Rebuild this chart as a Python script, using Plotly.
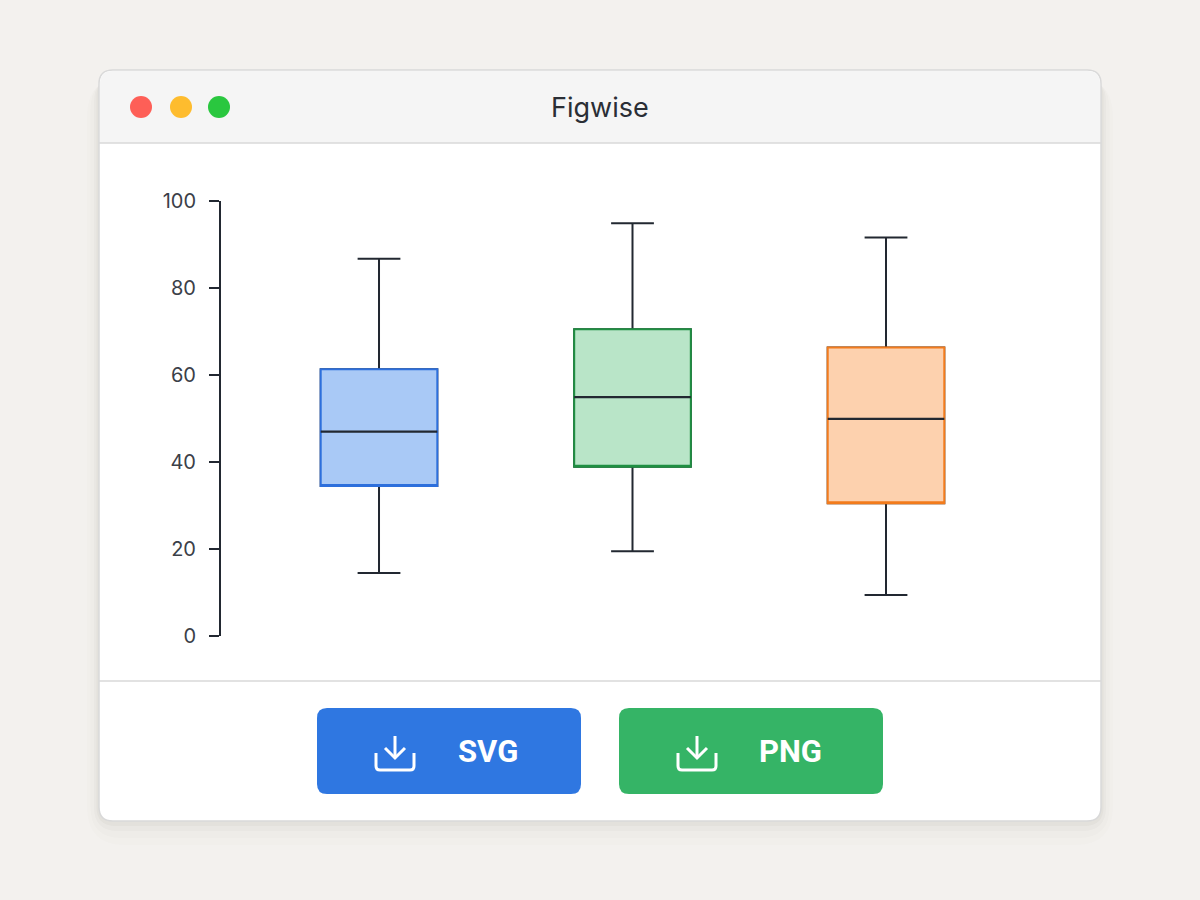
import plotly.graph_objects as go

# box statistics (three groups)
groups = ["A", "B", "C"]
positions = [0, 1, 2]
lower_whisker = [14.5, 19.5, 9.4]
q1 = [34.5, 38.9, 30.5]
median = [47.0, 54.9, 49.9]
q3 = [61.3, 70.5, 66.3]
upper_whisker = [86.7, 94.9, 91.6]

fill_colors = ["#a9c9f6", "#b9e5c8", "#fdd1ae"]
edge_colors = ["#2d6fdc", "#1f8f42", "#f27b1c"]
dark = "#222831"

y_ticks = [0, 20, 40, 60, 80, 100]

W, H = 1200, 900


def px(x):
    return x / W


def py(y):
    return 1 - y / H


def rrect(x0, y0, x1, y1, r, top=True, bottom=True):
    # rounded rectangle path in paper coords, built from pixel values
    rt = r if top else 0
    rb = r if bottom else 0
    p = f"M {px(x0 + rt)},{py(y0)} L {px(x1 - rt)},{py(y0)} "
    p += f"Q {px(x1)},{py(y0)} {px(x1)},{py(y0 + rt)} "
    p += f"L {px(x1)},{py(y1 - rb)} Q {px(x1)},{py(y1)} {px(x1 - rb)},{py(y1)} "
    p += f"L {px(x0 + rb)},{py(y1)} Q {px(x0)},{py(y1)} {px(x0)},{py(y1 - rb)} "
    p += f"L {px(x0)},{py(y0 + rt)} Q {px(x0)},{py(y0)} {px(x0 + rt)},{py(y0)} Z"
    return p


fig = go.Figure()

for i in range(len(groups)):
    # whiskers + dark outline
    fig.add_trace(go.Box(
        x=[positions[i]], q1=[q1[i]], median=[median[i]], q3=[q3[i]],
        lowerfence=[lower_whisker[i]], upperfence=[upper_whisker[i]],
        width=0.46, whiskerwidth=0.367, boxpoints=False,
        line=dict(color=dark, width=2), fillcolor="rgba(0,0,0,0)",
        name=groups[i], showlegend=False, hoverinfo="skip"))
    # coloured box on top
    fig.add_trace(go.Box(
        x=[positions[i]], q1=[q1[i]], median=[q1[i]], q3=[q3[i]],
        lowerfence=[q1[i]], upperfence=[q3[i]],
        width=0.46, whiskerwidth=0, boxpoints=False,
        line=dict(color=edge_colors[i], width=2), fillcolor=fill_colors[i],
        name=groups[i], showlegend=False, hoverinfo="skip"))
    # median line
    fig.add_trace(go.Box(
        x=[positions[i]], q1=[median[i]], median=[median[i]], q3=[median[i]],
        lowerfence=[median[i]], upperfence=[median[i]],
        width=0.46, whiskerwidth=0, boxpoints=False,
        line=dict(color=dark, width=2.2), fillcolor="rgba(0,0,0,0)",
        name=groups[i], showlegend=False, hoverinfo="skip"))

shapes = []
# soft shadow under the window
for k, a in [(24, 0.01), (17, 0.015), (10, 0.022), (5, 0.03)]:
    shapes.append(dict(type="path", xref="paper", yref="paper", layer="below",
                       path=rrect(99 - k * 0.5, 70 + 8, 1101 + k * 0.5, 821 + k, 14 + k),
                       fillcolor=f"rgba(60,50,40,{a})", line=dict(width=0)))
# window card
shapes.append(dict(type="path", xref="paper", yref="paper", layer="below",
                   path=rrect(99, 70, 1101, 821, 14),
                   fillcolor="#ffffff", line=dict(color="#d9d9d9", width=1.5)))
# title bar
shapes.append(dict(type="path", xref="paper", yref="paper", layer="below",
                   path=rrect(100, 71, 1100, 143, 13, bottom=False),
                   fillcolor="#f5f5f5", line=dict(width=0)))
# separators
for yy in [143, 681]:
    shapes.append(dict(type="line", xref="paper", yref="paper", layer="below",
                       x0=px(99), x1=px(1101), y0=py(yy), y1=py(yy),
                       line=dict(color="#d9d9d9", width=1.5)))
# traffic lights
for cx, c in [(141, "#fe5f57"), (181, "#febc2e"), (219, "#2ac73f")]:
    shapes.append(dict(type="circle", xref="paper", yref="paper", layer="below",
                       x0=px(cx - 11), x1=px(cx + 11), y0=py(107 - 11), y1=py(107 + 11),
                       fillcolor=c, line=dict(width=0)))

annotations = [dict(text="Figwise", x=px(600), y=py(107), xref="paper", yref="paper",
                    showarrow=False, xanchor="center", yanchor="middle",
                    font=dict(family="Inter", size=27, color="#2a2e35"))]

# download buttons
buttons = [("SVG", 317, 581, "#2f77e1"), ("PNG", 619, 883, "#35b466")]
for label, x0, x1, col in buttons:
    shapes.append(dict(type="path", xref="paper", yref="paper", layer="below",
                       path=rrect(x0, 708, x1, 794, 10),
                       fillcolor=col, line=dict(width=0)))
    ix = x0 + 78
    # arrow shaft + head
    shapes.append(dict(type="line", xref="paper", yref="paper", layer="below",
                       x0=px(ix), x1=px(ix), y0=py(736), y1=py(758),
                       line=dict(color="white", width=3)))
    shapes.append(dict(type="path", xref="paper", yref="paper", layer="below",
                       path=f"M {px(ix - 10)},{py(748)} L {px(ix)},{py(758)} L {px(ix + 10)},{py(748)}",
                       line=dict(color="white", width=3)))
    # tray
    shapes.append(dict(type="path", xref="paper", yref="paper", layer="below",
                       path=(f"M {px(ix - 19)},{py(753)} L {px(ix - 19)},{py(766)} "
                             f"Q {px(ix - 19)},{py(770)} {px(ix - 15)},{py(770)} "
                             f"L {px(ix + 15)},{py(770)} Q {px(ix + 19)},{py(770)} {px(ix + 19)},{py(766)} "
                             f"L {px(ix + 19)},{py(753)}"),
                       line=dict(color="white", width=3)))
    annotations.append(dict(text=f"<b>{label}</b>", x=px(x0 + 171), y=py(751),
                            xref="paper", yref="paper", showarrow=False,
                            xanchor="center", yanchor="middle",
                            font=dict(family="Roboto", size=31, color="white")))

fig.update_layout(
    template="none",
    width=W, height=H, autosize=False,
    margin=dict(l=0, r=0, t=0, b=0, pad=0, autoexpand=False),
    paper_bgcolor="#f3f1ee",
    plot_bgcolor="rgba(0,0,0,0)",
    boxmode="overlay",
    showlegend=False,
    shapes=shapes,
    annotations=annotations,
    xaxis=dict(domain=[221 / W, 1040 / W], range=[-0.6233, 2.6075],
               visible=False, fixedrange=True, automargin=False),
    yaxis=dict(domain=[1 - 636 / H, 1 - 201 / H], range=[0, 100],
               tickvals=y_ticks, showline=True, linecolor=dark, linewidth=2,
               ticks="outside", ticklen=10, tickwidth=2, tickcolor=dark,
               showgrid=False, zeroline=False, ticklabelstandoff=9, automargin=False,
               tickfont=dict(family="Inter", size=20, color="#3b4048")),
)

fig.write_html("out.html", config={"displayModeBar": False},
               post_script="document.body.style.margin='0';document.body.style.overflow='hidden';")
